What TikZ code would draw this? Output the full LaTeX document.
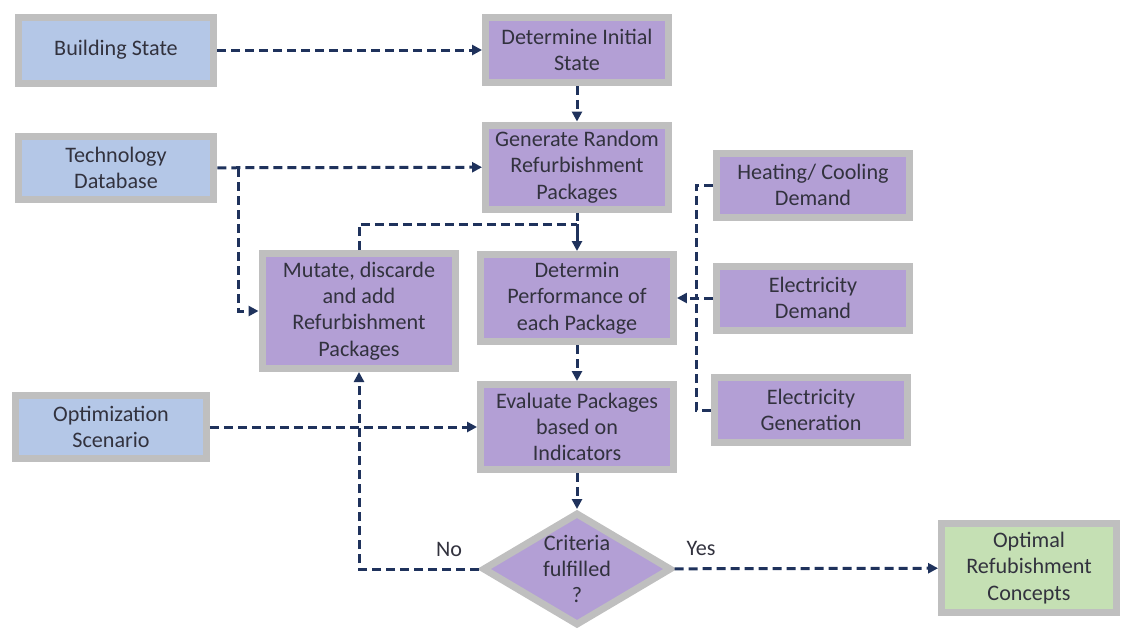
\documentclass[tikz,border=0pt]{standalone}
\usepackage{fontspec}
\setmainfont{Carlito}
\usetikzlibrary{arrows.meta,shapes.geometric}

\definecolor{boxgray}{RGB}{191,191,191}
\definecolor{inblue}{RGB}{180,199,231}
\definecolor{procpurple}{RGB}{179,159,213}
\definecolor{outgreen}{RGB}{197,224,180}
\definecolor{flownavy}{RGB}{31,50,92}
\definecolor{txtgray}{RGB}{50,50,62}

\tikzset{
    box/.style={draw=boxgray, line width=0.14cm, text=txtgray, align=center,
        inner sep=0pt, font=\fontsize{12.6}{15}\selectfont},
    inbox/.style={box, fill=inblue},
    procbox/.style={box, fill=procpurple},
    outbox/.style={box, fill=outgreen},
    flow/.style={draw=flownavy, line width=0.06cm, dash pattern=on 0.18cm off 0.1cm,
        -{Triangle[length=0.2cm,width=0.2cm]}},
    flowline/.style={draw=flownavy, line width=0.06cm, dash pattern=on 0.18cm off 0.1cm}
}

\begin{document}
\begin{tikzpicture}[x=0.02cm, y=-0.02cm]
    \useasboundingbox (0,0) rectangle (1131,630);

    % 输入
    \node[inbox, minimum width=3.92cm, minimum height=1.32cm] (bs) at (116,50) {Building State};
    \node[inbox, minimum width=3.92cm, minimum height=1.26cm] (tdb) at (116,168) {Technology\\Database};
    \node[inbox, minimum width=3.82cm, minimum height=1.26cm] (ops) at (111,427) {Optimization\\Scenario};

    % 主流程
    \node[procbox, minimum width=3.66cm, minimum height=1.30cm] (dis) at (577,50) {Determine Initial\\State};
    \node[procbox, minimum width=3.66cm, minimum height=1.68cm] (grp) at (577,167) {Generate Random\\Refurbishment\\Packages};
    \node[procbox, minimum width=3.86cm, minimum height=1.74cm] (prf) at (577,298) {Determin\\Performance of\\each Package};
    \node[procbox, minimum width=3.86cm, minimum height=1.70cm] (evl) at (577,427) {Evaluate Packages\\based on\\Indicators};
    \node[procbox, minimum width=3.88cm, minimum height=2.30cm] (mut) at (359,311) {Mutate, discarde\\and add\\Refurbishment\\Packages};

    % 需求与发电
    \node[procbox, minimum width=3.86cm, minimum height=1.28cm] (hcd) at (813,185) {Heating/ Cooling\\Demand};
    \node[procbox, minimum width=3.86cm, minimum height=1.28cm] (eld) at (813,298) {Electricity\\Demand};
    \node[procbox, minimum width=3.88cm, minimum height=1.30cm] (elg) at (811,410) {Electricity\\Generation};

    % 判断与输出
    \node[procbox, diamond, minimum width=3.78cm, minimum height=2.26cm] (dec) at (577,569) {};
    \node[text=txtgray, align=center, font=\fontsize{12.6}{15}\selectfont] (dect) at (dec) {Criteria\\fulfilled\\?};
    \node[outbox, minimum width=3.50cm, minimum height=1.78cm] (opt) at (1029,568) {Optimal\\Refubishment\\Concepts};

    % 连接点
    \coordinate (tb) at (238,168);
    \coordinate (jn) at (577,224);
    \coordinate (bus) at (696,298);

    % 连接线
    \draw[flow] (bs) -- (dis);
    \draw[flow] (dis) -- (grp);
    \draw[flow] (tdb) -- (grp);
    \draw[flow] (tb) |- (mut);
    \draw[flowline] (grp) -- (jn);
    \draw[flowline] (mut) |- (jn);
    \draw[flownavy, line width=0.06cm, -{Triangle[length=0.2cm,width=0.2cm]}] (jn) -- (prf);
    \draw[flowline] (hcd) -| (bus);
    \draw[flowline] (elg) -| (bus);
    \draw[flow] (eld) -- (prf);
    \draw[flow] (prf) -- (evl);
    \draw[flow] (ops) -- (evl);
    \draw[flow] (evl) -- (dec);
    \draw[flow] (dec) -- node[pos=0.1, above=3pt, text=txtgray, font=\fontsize{12.6}{15}\selectfont] {Yes} (opt);
    \draw[flow] (dec.west) -- node[pos=0.25, above=3pt, text=txtgray, font=\fontsize{12.6}{15}\selectfont] {No} (359,569) -- (mut);
\end{tikzpicture}
\end{document}
